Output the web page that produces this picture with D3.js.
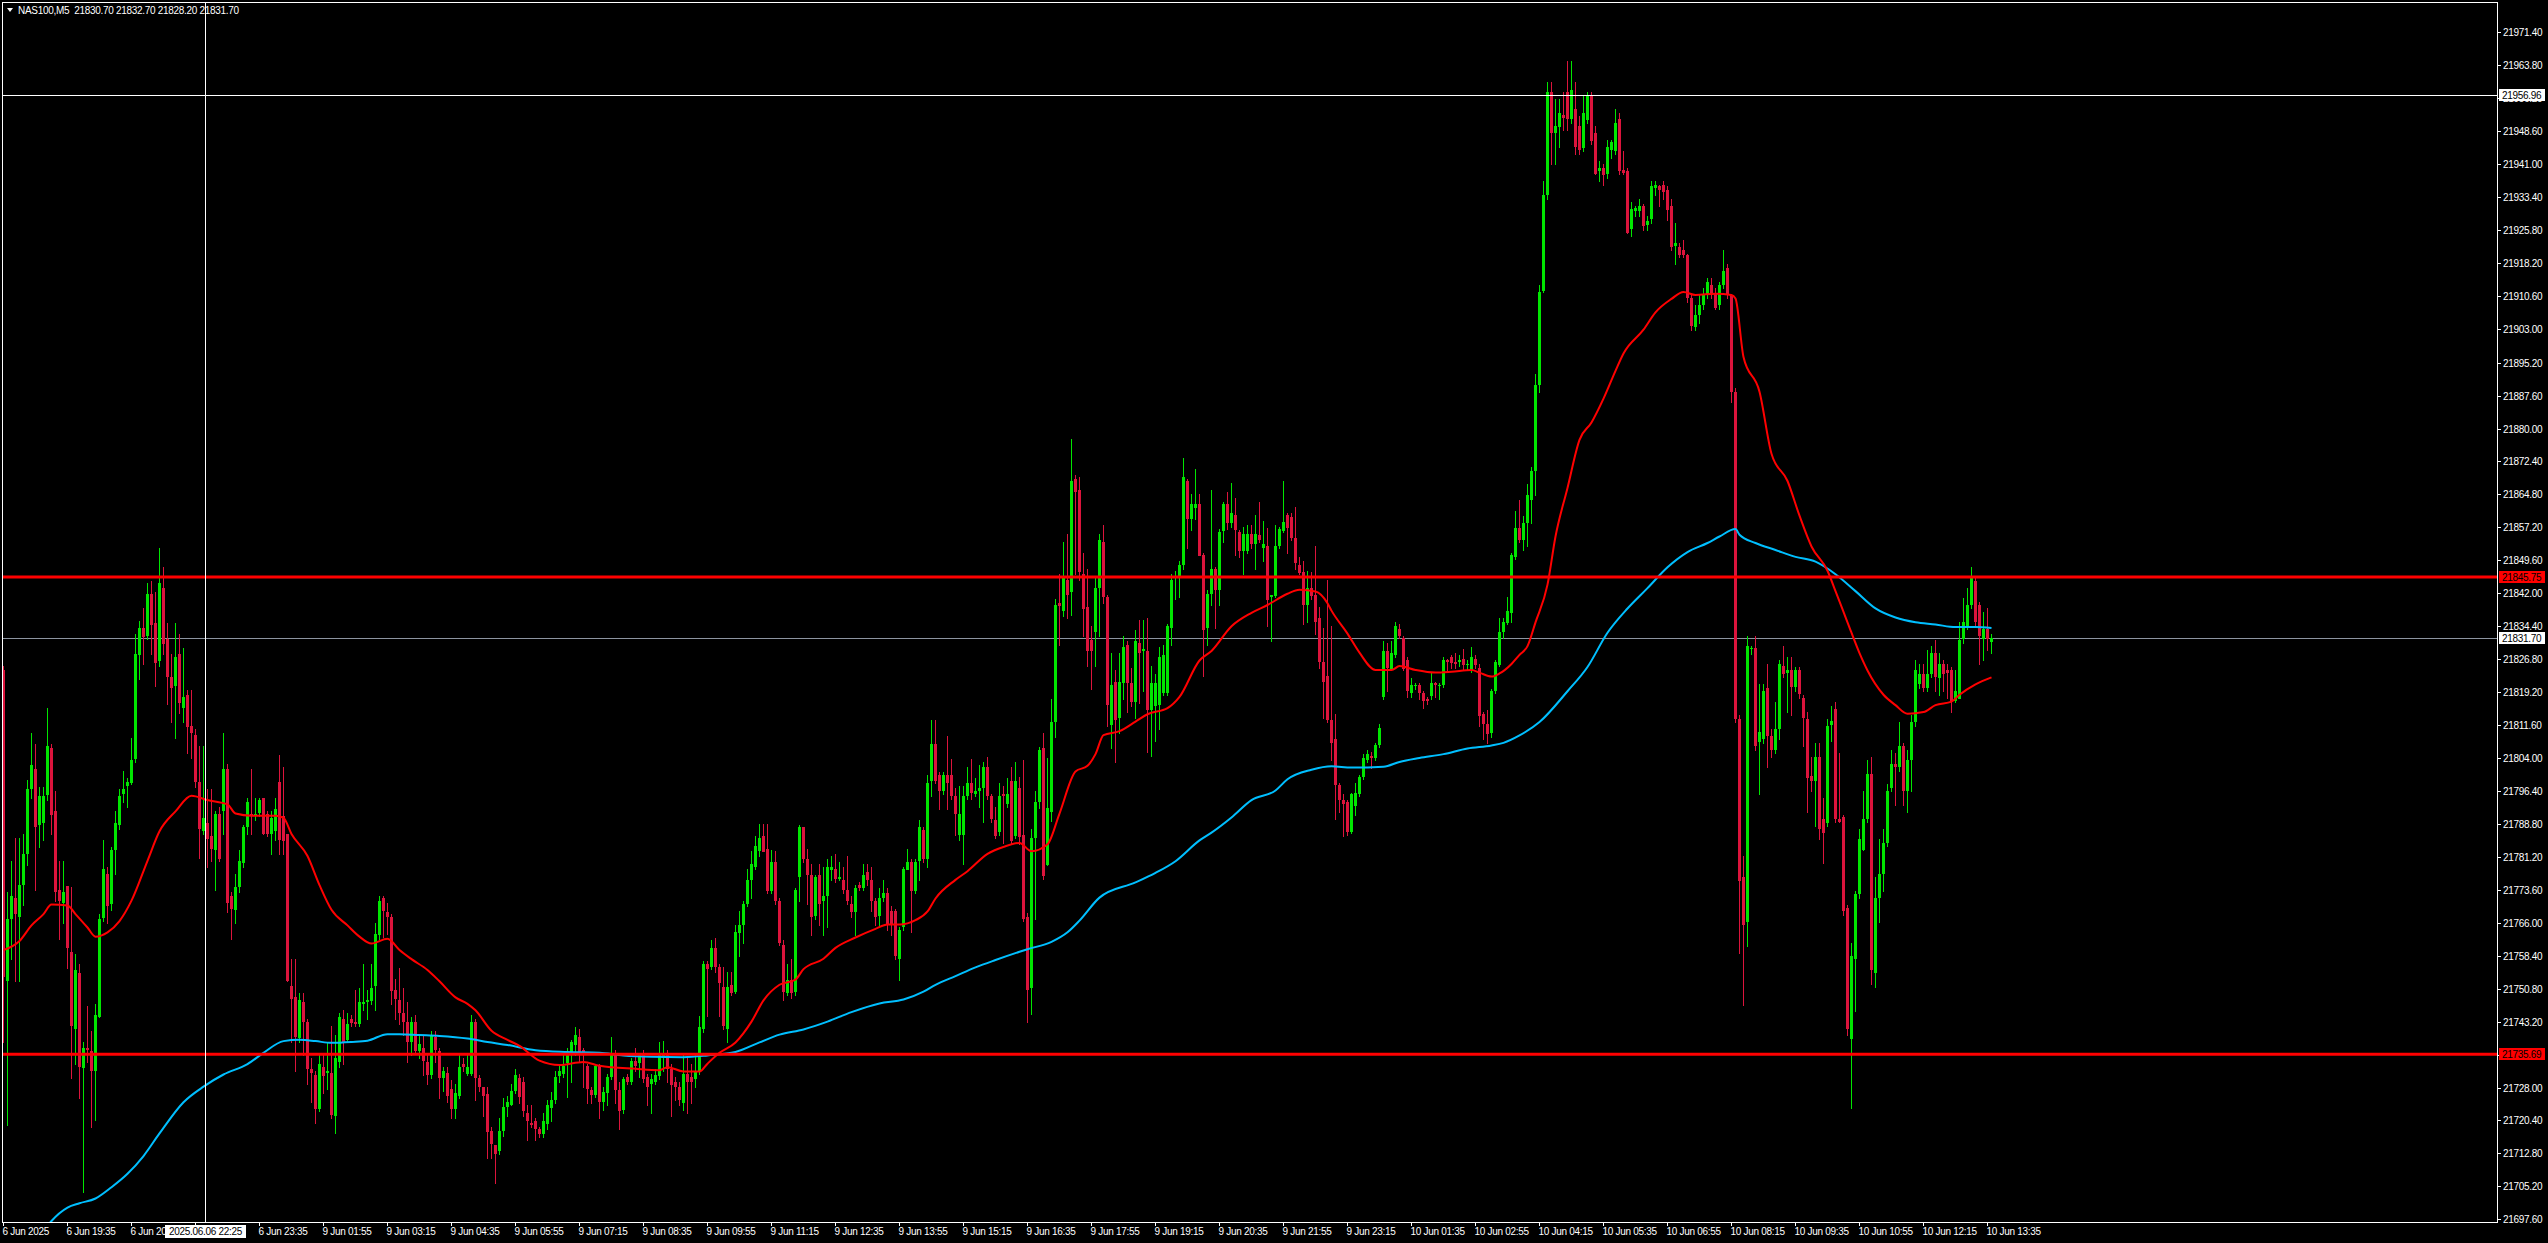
<!DOCTYPE html>
<html><head><meta charset="utf-8">
<script src="https://cdn.jsdelivr.net/npm/d3@7"></script>
<style>
html,body{margin:0;padding:0;background:#000;overflow:hidden}
svg{display:block}
text{font-family:"Liberation Sans",Arial,sans-serif;font-size:10px;letter-spacing:-0.3px}
</style>
</head><body>
<svg id="chart" width="2548" height="1243"></svg>
<script>
// ---------------- DATA ----------------
const chartTitle = "NAS100,M5  21830.70 21832.70 21828.20 21831.70";

const open = [
21824.2,21752.5,21766.9,21771.6,21767.4,21774.7,21781.9,21796.9,21801.5,21788.6,
21789.1,21795.3,21806.2,21791.7,21773.6,21770.5,21774.4,21759.2,21741.6,21754.5,
21732.3,21737.0,21736.5,21731.8,21744.2,21766.9,21777.3,21770.5,21782.9,21788.6,
21795.8,21797.4,21798.4,21803.6,21827.9,21834.1,21832.0,21841.8,21835.1,21826.3,
21843.3,21831.5,21822.7,21820.6,21827.9,21815.5,21818.6,21811.3,21809.3,21798.4,
21787.1,21789.1,21786.0,21782.9,21791.2,21791.7,21801.5,21772.1,21769.0,21774.2,
21779.8,21788.1,21791.2,21790.7,21791.2,21794.8,21791.2,21786.5,21787.1,21798.4,
21790.7,21786.5,21751.4,21748.8,21739.6,21747.8,21743.2,21732.3,21730.8,21723.0,
21732.8,21731.3,21731.3,21721.5,21733.9,21743.7,21739.1,21743.7,21743.2,21742.7,
21747.3,21747.7,21747.8,21751.4,21763.3,21771.6,21768.5,21767.4,21750.4,21748.3,
21745.2,21743.2,21738.5,21743.2,21736.5,21737.0,21733.9,21730.8,21739.6,21736.5,
21730.3,21731.3,21727.7,21723.0,21726.1,21733.4,21731.3,21731.3,21743.2,21730.3,
21728.2,21726.6,21717.9,21714.8,21713.2,21717.9,21723.5,21724.0,21727.2,21730.3,
21729.3,21722.1,21719.9,21720.3,21718.4,21717.2,21719.6,21723.3,21725.1,21730.5,
21731.1,21733.5,21735.4,21737.8,21739.6,21736.6,21732.9,21727.5,21726.3,21732.9,
21724.5,21726.9,21730.5,21736.0,21727.5,21722.7,21730.5,21729.3,21734.2,21733.5,
21735.4,21730.5,21728.7,21729.3,21730.5,21734.8,21736.0,21732.3,21729.3,21728.1,
21724.5,21731.1,21730.5,21729.9,21731.7,21741.4,21756.5,21755.9,21760.2,21755.9,
21751.1,21741.4,21751.7,21749.9,21763.8,21765.6,21770.4,21775.9,21778.9,21782.5,
21786.1,21783.1,21773.5,21780.1,21771.0,21760.8,21749.9,21752.9,21749.9,21776.5,
21788.0,21780.7,21777.1,21767.4,21777.1,21771.0,21772.2,21778.3,21778.3,21776.1,
21775.9,21773.5,21770.4,21768.6,21774.7,21774.1,21777.7,21775.9,21771.0,21767.4,
21771.6,21772.8,21768.6,21768.6,21757.7,21765.0,21778.3,21780.1,21773.5,21780.1,
21787.4,21780.7,21798.8,21807.3,21800.1,21796.4,21800.1,21800.1,21795.2,21786.2,
21786.2,21795.2,21798.2,21795.8,21796.4,21797.0,21801.9,21795.2,21789.8,21786.8,
21795.6,21793.4,21798.8,21786.2,21797.2,21786.3,21767.4,21751.0,21785.5,21793.9,
21806.2,21779.3,21791.6,21812.4,21839.7,21838.0,21845.0,21842.4,21868.4,21865.8,
21846.4,21838.9,21831.3,21833.1,21843.3,21853.9,21841.1,21811.5,21821.6,21813.3,
21821.2,21830.0,21821.2,21816.8,21830.5,21828.7,21828.7,21815.0,21815.9,21816.4,
21819.0,21819.0,21834.0,21845.5,21845.9,21848.6,21868.0,21859.2,21861.8,21862.7,
21850.8,21834.0,21841.9,21847.7,21842.8,21856.5,21862.7,21858.3,21860.0,21856.1,
21851.7,21851.7,21855.6,21853.4,21855.5,21852.5,21853.0,21841.1,21841.5,21853.0,
21856.5,21860.0,21859.6,21854.7,21848.6,21846.8,21839.3,21843.3,21841.5,21836.2,
21826.1,21823.0,21812.8,21808.4,21797.8,21794.3,21793.8,21786.8,21793.0,21795.6,
21799.6,21803.5,21804.4,21804.0,21807.1,21818.1,21828.7,21824.7,21827.8,21833.7,
21831.8,21826.5,21819.0,21820.7,21820.8,21819.0,21817.7,21818.1,21821.2,21820.7,
21820.8,21826.5,21827.4,21826.1,21826.1,21826.9,21825.6,21824.3,21826.9,21824.7,
21814.1,21811.9,21809.7,21819.4,21825.6,21833.1,21835.3,21837.5,21850.3,21857.0,
21854.4,21858.3,21863.5,21870.3,21890.1,21911.6,21933.8,21957.6,21948.1,21949.7,
21952.4,21957.6,21951.3,21953.7,21949.7,21944.9,21951.3,21956.8,21948.1,21939.4,
21940.2,21938.6,21944.1,21944.1,21951.3,21939.7,21939.4,21925.9,21930.2,21930.2,
21931.4,21927.0,21928.2,21935.4,21935.9,21936.2,21935.1,21931.4,21921.9,21921.9,
21921.1,21920.0,21910.0,21903.6,21906.0,21908.4,21910.8,21913.1,21911.1,21908.4,
21913.1,21917.1,21910.8,21888.5,21813.1,21776.5,21766.2,21829.1,21829.4,21807.5,
21808.3,21820.2,21809.1,21805.9,21810.7,21825.3,21823.4,21824.2,21820.2,21824.2,
21817.8,21813.1,21799.9,21798.8,21804.3,21790.0,21789.2,21811.5,21815.4,21790.0,
21790.3,21769.4,21739.2,21757.5,21772.6,21782.9,21790.0,21800.4,21754.3,21771.7,
21777.3,21784.4,21797.2,21802.7,21801.9,21806.7,21796.4,21803.5,21812.3,21821.0,
21823.4,21820.2,21823.4,21828.2,21822.6,21825.8,21824.2,21824.2,21817.0,21817.8,
21831.3,21834.5,21839.3,21844.8,21839.3,21831.3,21833.7,21830.7];

const high = [
21825.3,21773.1,21780.3,21785.5,21785.5,21786.5,21798.9,21809.8,21807.2,21797.4,
21797.4,21815.5,21807.2,21796.4,21780.3,21780.3,21774.4,21774.2,21758.7,21756.6,
21738.5,21746.8,21741.1,21747.3,21768.0,21785.0,21778.8,21783.4,21791.7,21796.9,
21801.0,21799.5,21808.7,21832.5,21835.6,21838.7,21844.4,21844.9,21842.3,21852.4,
21848.0,21835.1,21827.9,21835.1,21832.5,21829.4,21819.6,21819.6,21810.8,21806.7,
21806.7,21796.9,21796.9,21791.7,21792.7,21809.8,21802.6,21773.1,21777.3,21782.9,
21788.6,21794.8,21801.5,21794.8,21794.8,21794.8,21791.7,21791.7,21794.8,21804.6,
21802.0,21786.5,21757.6,21757.6,21749.9,21749.9,21743.7,21734.9,21731.8,21735.4,
21735.4,21738.5,21742.1,21740.1,21745.2,21745.8,21745.2,21744.7,21750.4,21750.9,
21756.6,21750.4,21756.6,21765.9,21772.1,21772.1,21770.5,21768.0,21753.0,21755.6,
21750.9,21747.8,21744.2,21744.7,21740.1,21740.1,21735.4,21741.1,21741.1,21737.0,
21732.8,21732.8,21729.7,21728.7,21735.4,21734.9,21735.4,21744.7,21743.7,21730.8,
21728.2,21728.2,21718.9,21714.8,21721.0,21725.6,21726.1,21728.7,21732.3,21731.1,
21730.5,21723.9,21723.9,21720.9,21719.0,21722.1,21725.1,21726.9,21731.7,21732.9,
21735.4,21737.2,21739.0,21742.0,21741.6,21737.2,21733.5,21728.1,21733.5,21733.5,
21728.1,21731.1,21739.6,21736.6,21729.3,21730.5,21731.1,21734.8,21737.2,21736.0,
21736.6,21731.1,21731.1,21732.3,21738.4,21738.8,21736.6,21733.5,21730.5,21729.3,
21735.4,21734.8,21733.5,21735.4,21744.4,21757.1,21757.1,21762.0,21762.6,21756.5,
21755.9,21754.7,21754.7,21765.6,21768.6,21771.0,21778.3,21782.5,21786.1,21788.8,
21788.8,21788.8,21782.8,21782.5,21771.6,21762.0,21756.5,21757.7,21774.1,21788.6,
21788.0,21783.1,21779.5,21777.1,21779.5,21778.9,21780.7,21781.3,21781.9,21780.1,
21778.9,21781.3,21772.2,21774.7,21775.3,21779.5,21779.5,21778.9,21771.6,21774.1,
21775.9,21774.1,21769.8,21769.2,21765.0,21778.9,21783.1,21780.7,21780.7,21789.8,
21788.0,21800.1,21812.8,21812.8,21800.7,21800.7,21809.1,21803.7,21797.0,21797.6,
21797.6,21801.9,21803.7,21799.5,21802.5,21803.1,21804.3,21795.8,21792.8,21798.2,
21797.6,21799.5,21801.9,21803.1,21799.6,21803.5,21768.2,21787.7,21796.5,21806.6,
21809.7,21804.0,21817.7,21840.6,21846.4,21853.9,21855.6,21877.7,21869.3,21868.9,
21851.2,21847.7,21834.4,21845.9,21855.6,21857.8,21841.5,21828.3,21824.3,21828.3,
21832.2,21830.9,21824.7,21833.6,21835.8,21835.8,21836.2,21825.2,21823.4,21829.6,
21830.0,21834.9,21846.4,21847.2,21849.4,21873.3,21868.4,21864.9,21870.6,21864.9,
21851.2,21842.8,21865.8,21848.1,21856.9,21863.1,21865.3,21867.5,21864.0,21856.5,
21857.4,21857.8,21857.8,21860.0,21863.1,21858.7,21857.0,21841.5,21857.8,21857.4,
21868.0,21860.5,21860.5,21861.8,21850.3,21849.4,21847.2,21846.8,21853.0,21838.9,
21834.0,21845.0,21834.4,21814.1,21798.3,21795.6,21794.3,21796.0,21798.3,21800.0,
21804.9,21805.8,21805.3,21807.5,21811.9,21830.9,21830.5,21830.9,21835.3,21834.9,
21832.2,21827.4,21822.5,21821.2,21821.2,21819.4,21818.1,21823.9,21821.6,21821.2,
21827.4,21826.9,21827.8,21828.3,21827.8,21829.1,21826.5,21829.6,21827.8,21825.6,
21814.6,21815.0,21819.9,21826.5,21836.2,21836.2,21841.1,21851.2,21860.9,21863.6,
21859.9,21867.1,21871.1,21892.5,21913.1,21937.0,21960.0,21960.0,21956.0,21956.0,
21957.6,21964.8,21964.8,21960.0,21952.1,21956.8,21957.6,21957.6,21949.7,21941.8,
21941.0,21946.5,21946.5,21953.7,21952.9,21944.1,21940.2,21932.2,21931.4,21933.0,
21931.7,21929.0,21937.0,21937.0,21936.2,21937.0,21935.9,21933.0,21927.4,21922.7,
21923.5,21920.3,21910.8,21908.4,21910.8,21912.4,21914.7,21914.7,21912.4,21913.9,
21921.1,21917.9,21911.1,21889.3,21813.9,21781.3,21832.1,21829.8,21832.1,21821.0,
21821.0,21825.8,21810.7,21817.0,21826.6,21829.8,21827.4,21827.4,21825.0,21825.0,
21818.6,21814.6,21804.3,21807.5,21807.5,21794.8,21813.1,21816.0,21817.0,21805.1,
21790.8,21770.2,21761.4,21773.4,21787.6,21796.4,21803.5,21804.3,21776.5,21785.3,
21787.6,21797.9,21805.9,21805.1,21812.3,21807.5,21805.9,21813.9,21826.6,21825.8,
21825.8,21829.0,21829.8,21831.3,21828.2,21826.6,21825.8,21825.0,21824.2,21835.3,
21840.9,21843.2,21848.0,21845.6,21840.1,21837.7,21838.5,21832.7];

const low = [
21738.5,21719.4,21757.6,21752.5,21752.5,21770.0,21779.3,21794.8,21773.6,21783.4,
21785.0,21794.3,21786.5,21771.1,21762.3,21765.9,21755.6,21730.3,21733.4,21725.6,
21703.9,21733.9,21718.9,21720.5,21744.2,21766.4,21765.9,21769.0,21777.3,21787.6,
21793.8,21792.8,21797.9,21803.1,21822.2,21825.8,21831.5,21827.9,21820.6,21825.3,
21827.9,21816.5,21812.3,21808.7,21814.4,21812.3,21805.1,21804.1,21797.4,21780.9,
21786.5,21778.8,21780.3,21773.6,21780.3,21786.5,21768.5,21762.3,21765.9,21773.1,
21778.8,21786.5,21786.5,21789.6,21790.7,21786.5,21786.0,21781.9,21785.0,21781.9,
21781.9,21752.5,21738.5,21731.8,21738.5,21735.4,21728.7,21724.6,21719.9,21722.5,
21726.7,21727.7,21721.0,21717.4,21732.8,21733.4,21738.5,21742.1,21742.1,21742.1,
21745.8,21743.7,21747.3,21745.8,21762.3,21762.8,21763.3,21747.3,21743.7,21742.7,
21740.1,21733.9,21735.4,21736.0,21734.9,21730.8,21728.7,21730.3,21733.9,21725.6,
21727.2,21724.6,21721.0,21721.0,21725.6,21731.8,21730.8,21730.8,21725.1,21727.2,
21721.5,21711.7,21711.7,21706.0,21712.7,21716.8,21721.5,21724.0,21726.7,21724.5,
21721.5,21716.0,21719.0,21716.0,21716.6,21716.6,21718.4,21720.3,21724.5,21729.3,
21730.5,21725.7,21729.3,21735.4,21734.2,21728.1,21724.5,21724.5,21725.7,21720.9,
21722.7,21723.9,21729.9,21724.5,21718.4,21722.1,21728.7,21728.7,21731.7,21730.5,
21729.3,21723.9,21722.1,21728.7,21729.9,21731.7,21729.3,21721.5,21725.1,21723.9,
21722.7,21722.1,21724.5,21728.1,21731.1,21740.8,21744.4,21755.3,21754.7,21744.4,
21741.4,21738.4,21749.3,21749.9,21758.3,21761.4,21769.8,21771.6,21778.3,21781.3,
21782.5,21772.8,21772.8,21770.4,21760.8,21748.1,21749.3,21748.7,21749.3,21771.0,
21780.1,21770.4,21763.2,21766.8,21765.6,21763.2,21765.0,21775.9,21775.3,21775.9,
21772.8,21770.4,21767.4,21763.2,21773.5,21773.5,21774.7,21768.6,21765.6,21765.6,
21771.0,21764.4,21763.2,21757.7,21752.9,21764.4,21778.3,21763.8,21772.8,21775.9,
21780.1,21778.9,21795.2,21798.2,21792.2,21795.8,21792.2,21794.6,21786.2,21785.0,
21779.5,21794.6,21794.6,21795.2,21792.8,21789.2,21794.6,21789.2,21785.5,21786.2,
21784.3,21792.8,21784.3,21785.5,21784.1,21766.5,21743.0,21745.0,21766.9,21792.5,
21776.2,21779.3,21789.4,21808.8,21830.0,21836.7,21836.2,21837.1,21846.4,21845.0,
21832.2,21825.2,21819.9,21825.2,21832.2,21839.7,21811.5,21806.2,21803.1,21809.7,
21817.7,21814.6,21815.9,21813.3,21816.8,21819.4,21805.3,21804.4,21808.0,21810.6,
21818.6,21818.6,21830.0,21840.6,21841.1,21847.7,21852.5,21856.5,21859.2,21850.8,
21823.0,21830.0,21839.3,21834.0,21839.3,21853.9,21856.9,21857.4,21850.8,21850.3,
21846.4,21851.2,21852.5,21847.7,21853.9,21849.4,21834.4,21830.9,21841.1,21852.5,
21856.1,21851.2,21854.3,21847.7,21846.4,21834.9,21835.3,21840.6,21832.7,21824.7,
21813.3,21812.4,21803.5,21789.9,21791.6,21785.9,21786.3,21786.8,21790.8,21795.2,
21799.1,21803.1,21801.8,21803.5,21806.6,21817.7,21819.4,21824.3,21827.4,21831.8,
21824.3,21818.1,21818.1,21819.9,21817.7,21815.5,21816.4,21817.7,21818.1,21817.7,
21820.3,21823.9,21824.7,21824.7,21825.2,21824.3,21824.3,21823.9,21824.7,21811.5,
21808.4,21807.5,21808.8,21819.0,21825.2,21831.8,21834.9,21835.3,21849.9,21853.9,
21852.0,21852.8,21858.3,21864.7,21888.5,21911.6,21933.0,21941.0,21941.0,21944.9,
21948.9,21948.9,21950.5,21943.3,21943.3,21944.1,21950.5,21945.7,21938.6,21937.0,
21936.2,21937.8,21942.5,21943.3,21938.6,21938.6,21925.1,21924.3,21929.0,21929.0,
21925.9,21925.9,21927.4,21933.8,21931.4,21933.0,21928.2,21921.1,21917.9,21919.5,
21919.5,21909.2,21902.8,21902.8,21904.4,21907.6,21910.0,21910.0,21907.6,21907.6,
21912.4,21910.0,21886.1,21812.3,21759.0,21747.1,21760.6,21828.1,21805.9,21795.6,
21807.5,21801.9,21804.3,21805.1,21808.3,21822.6,21814.6,21813.9,21819.4,21817.8,
21806.7,21791.6,21796.4,21788.4,21785.3,21779.7,21788.4,21808.0,21789.2,21789.2,
21767.8,21740.0,21723.3,21745.6,21771.8,21782.9,21789.2,21751.9,21751.1,21766.2,
21773.4,21783.6,21796.4,21793.2,21801.1,21793.2,21791.6,21796.4,21811.5,21820.2,
21819.4,21819.4,21822.6,21819.4,21818.6,21819.4,21817.8,21814.6,21817.0,21817.8,
21830.5,21833.7,21838.5,21834.5,21825.8,21826.6,21828.9,21828.2];

const close = [
21753.5,21766.9,21772.1,21768.0,21774.7,21781.9,21796.9,21802.5,21788.1,21795.3,
21795.3,21806.7,21790.7,21773.1,21771.1,21773.1,21760.2,21742.1,21755.1,21732.8,
21737.0,21736.5,21731.8,21744.7,21766.9,21778.3,21770.0,21782.9,21789.1,21795.3,
21796.9,21798.4,21803.6,21827.9,21834.1,21832.0,21841.8,21834.6,21825.8,21844.4,
21830.4,21822.7,21820.1,21827.3,21816.5,21818.1,21811.3,21809.8,21798.4,21787.6,
21790.2,21785.5,21782.9,21791.2,21780.9,21801.5,21770.5,21769.0,21774.2,21780.3,
21788.1,21793.8,21790.7,21791.2,21794.3,21786.5,21786.5,21790.2,21792.2,21785.0,
21785.0,21752.5,21748.3,21739.6,21748.3,21743.2,21732.3,21731.3,21723.0,21733.4,
21730.8,21731.8,21721.5,21734.9,21744.2,21738.5,21742.7,21742.7,21742.7,21747.8,
21747.8,21748.1,21750.9,21763.3,21771.1,21768.5,21767.4,21750.4,21748.3,21745.2,
21743.2,21738.5,21743.2,21736.5,21738.0,21733.9,21730.8,21740.1,21736.5,21730.3,
21731.8,21726.1,21723.0,21726.7,21732.8,21732.8,21732.8,21743.2,21730.3,21728.2,
21726.1,21717.9,21714.8,21712.7,21717.9,21723.5,21724.6,21727.2,21730.8,21726.0,
21722.7,21720.3,21719.4,21718.4,21717.2,21720.3,21723.9,21725.1,21730.5,21731.7,
21732.9,21735.4,21738.4,21740.2,21735.4,21736.0,21727.5,21726.3,21732.9,21724.5,
21726.9,21730.5,21736.0,21727.5,21722.7,21729.9,21729.3,21734.2,21733.0,21735.4,
21729.9,21728.1,21729.9,21730.8,21735.4,21736.0,21732.3,21728.7,21728.1,21725.1,
21731.1,21729.3,21729.3,21731.7,21742.0,21756.5,21755.3,21760.2,21755.9,21752.3,
21742.0,21751.1,21749.9,21763.8,21765.6,21770.4,21775.9,21779.5,21783.7,21785.5,
21782.5,21773.5,21780.1,21771.0,21761.4,21749.9,21752.9,21749.9,21773.5,21788.0,
21780.7,21777.1,21767.4,21776.5,21770.4,21772.2,21778.9,21778.9,21775.9,21776.5,
21773.5,21771.0,21768.6,21774.1,21774.1,21777.1,21775.9,21771.0,21767.4,21771.6,
21772.8,21765.6,21765.6,21758.3,21764.4,21778.3,21780.1,21773.5,21780.1,21788.0,
21780.7,21798.2,21807.3,21798.8,21796.4,21800.1,21798.2,21795.2,21791.0,21791.0,
21795.2,21798.2,21795.8,21796.4,21797.0,21801.9,21795.2,21789.8,21786.2,21795.2,
21795.2,21795.8,21784.9,21798.8,21786.0,21766.9,21750.6,21785.5,21793.9,21805.8,
21776.6,21792.5,21812.4,21839.3,21838.9,21845.5,21841.5,21868.0,21865.3,21846.8,
21838.4,21828.7,21828.7,21843.3,21854.3,21841.1,21816.3,21820.8,21812.8,21821.6,
21829.6,21821.2,21816.8,21830.9,21828.3,21829.1,21815.0,21821.2,21821.2,21827.4,
21827.8,21834.4,21845.0,21845.9,21848.6,21868.9,21859.2,21862.7,21862.7,21850.8,
21833.6,21841.9,21847.7,21842.8,21856.1,21862.7,21858.3,21860.5,21856.5,21851.7,
21855.6,21855.6,21853.4,21855.6,21854.3,21853.4,21840.6,21841.5,21853.0,21856.9,
21858.5,21856.9,21854.7,21849.0,21846.8,21839.3,21843.3,21841.5,21835.3,21826.1,
21821.6,21812.8,21807.5,21797.8,21794.3,21793.4,21786.8,21795.6,21796.0,21799.6,
21804.0,21804.9,21804.0,21807.1,21811.0,21828.7,21824.7,21828.3,21834.4,21832.2,
21824.7,21819.4,21820.8,21820.9,21819.0,21817.2,21817.2,21821.2,21820.8,21820.9,
21826.5,21826.1,21826.1,21825.6,21826.5,21825.6,21825.7,21827.4,21825.6,21813.7,
21811.9,21809.7,21819.4,21826.1,21833.1,21835.3,21838.0,21850.8,21857.0,21854.3,
21858.3,21864.7,21870.3,21890.1,21911.6,21933.8,21957.6,21948.1,21949.7,21952.9,
21951.8,21951.3,21958.1,21944.9,21944.1,21952.9,21956.8,21946.5,21938.6,21940.2,
21938.6,21944.9,21946.0,21950.5,21939.4,21939.1,21925.1,21930.6,21930.9,21931.4,
21926.7,21927.9,21935.9,21936.2,21934.9,21934.6,21930.6,21921.9,21922.7,21920.0,
21920.0,21910.0,21903.6,21906.3,21908.4,21910.8,21913.9,21910.8,21907.9,21913.1,
21916.3,21910.8,21888.5,21813.1,21775.7,21765.4,21829.8,21829.4,21806.7,21809.9,
21819.4,21809.1,21805.9,21810.7,21825.8,21823.4,21824.2,21820.2,21824.2,21818.6,
21813.1,21799.6,21798.8,21804.3,21787.6,21786.8,21811.5,21812.5,21790.0,21789.2,
21768.6,21741.5,21758.3,21772.6,21785.3,21790.0,21800.4,21755.1,21771.7,21777.3,
21784.4,21796.4,21802.7,21801.9,21806.7,21796.4,21803.5,21812.3,21824.2,21823.4,
21820.2,21823.4,21828.2,21822.6,21825.8,21823.4,21823.4,21817.0,21819.4,21831.3,
21835.3,21839.3,21845.6,21835.3,21832.1,21833.7,21831.3,21831.7];

// moving averages: [bar index, value]
const redMA = [
[0,21759.7],[4,21761.8],[7,21765.4],[10,21768.0],[12,21770.2],[16,21770.0],[18,21768.0],[21,21764.9],[23,21762.8],[26,21763.8],
[29,21766.4],[32,21771.1],[36,21780.3],[39,21787.1],[43,21791.7],[47,21795.3],[51,21794.3],[56,21793.3],[58,21791.2],[62,21790.7],
[68,21790.7],[70,21790.2],[72,21786.5],[76,21781.4],[79,21774.7],[82,21769.0],[86,21765.4],[89,21762.8],[92,21761.2],[96,21762.3],
[99,21759.7],[102,21757.6],[106,21755.1],[109,21752.5],[113,21748.8],[116,21747.3],[118,21745.8],[122,21741.1],[126,21739.0],[129,21737.6],
[134,21734.2],[139,21733.2],[145,21733.9],[149,21733.0],[158,21732.3],[164,21732.0],[166,21732.7],[170,21731.7],[174,21731.7],[176,21733.5],
[179,21736.0],[183,21738.4],[187,21743.2],[190,21748.1],[194,21751.7],[198,21752.9],[200,21755.3],[205,21757.7],[208,21760.2],[213,21762.6],
[218,21764.6],[221,21765.6],[224,21765.6],[228,21766.6],[231,21768.6],[233,21771.6],[238,21775.9],[241,21777.9],[246,21781.9],[250,21783.5],
[254,21784.4],[257,21782.5],[261,21784.1],[264,21791.2],[268,21800.9],[271,21802.2],[273,21804.9],[275,21809.3],[279,21810.2],[283,21812.4],
[286,21814.1],[291,21815.5],[294,21818.1],[299,21826.5],[302,21828.7],[307,21834.4],[312,21837.5],[316,21839.3],[321,21841.9],[324,21842.8],
[328,21842.4],[331,21839.7],[332,21838.0],[336,21832.7],[339,21828.3],[343,21824.3],[347,21824.3],[349,21825.2],[353,21824.3],[358,21823.7],
[362,21823.9],[367,21824.3],[369,21823.7],[372,21822.8],[374,21823.5],[377,21825.7],[379,21827.8],[381,21829.8],[383,21835.3],[386,21844.0],
[388,21855.1],[391,21866.3],[394,21877.4],[397,21881.4],[400,21886.9],[403,21893.3],[405,21897.3],[410,21902.8],[413,21906.8],[417,21909.9],
[420,21911.5],[423,21910.8],[428,21911.1],[432,21910.8],[433,21910.0],[435,21896.5],[439,21888.5],[442,21874.2],[446,21867.9],[449,21859.9],
[452,21852.8],[456,21847.2],[458,21842.5],[461,21835.3],[464,21828.2],[466,21824.2],[470,21818.6],[473,21816.2],[476,21814.2],[480,21814.6],
[483,21816.2],[487,21817.0],[489,21818.6],[493,21821.0],[497,21822.6]];

const blueMA = [
[8,21692.0],[12,21697.2],[16,21700.3],[19,21701.3],[23,21702.4],[27,21705.0],[31,21708.1],[35,21712.2],[39,21717.4],[45,21724.6],
[50,21728.2],[55,21731.0],[61,21733.4],[65,21736.0],[70,21738.7],[74,21739.0],[78,21738.7],[82,21738.3],[87,21738.5],[91,21738.8],
[96,21740.3],[99,21740.3],[104,21740.1],[109,21739.9],[116,21739.3],[121,21738.5],[126,21737.8],[133,21736.6],[141,21736.2],[149,21736.0],
[155,21735.4],[162,21735.1],[170,21735.0],[176,21735.4],[183,21736.2],[189,21738.4],[194,21740.2],[200,21741.4],[206,21743.2],[212,21745.4],
[219,21747.4],[225,21748.3],[230,21750.1],[233,21751.7],[238,21753.7],[243,21755.7],[248,21757.4],[254,21759.3],[256,21759.9],[262,21761.6],
[266,21763.8],[269,21766.5],[274,21771.8],[283,21775.3],[288,21777.5],[293,21780.2],[299,21785.0],[302,21786.8],[307,21790.3],[312,21794.3],
[318,21796.5],[321,21799.1],[327,21801.3],[332,21802.1],[337,21801.8],[345,21802.0],[349,21803.1],[354,21804.0],[360,21804.9],[366,21806.2],
[372,21806.9],[375,21807.5],[379,21809.2],[384,21812.3],[391,21819.4],[396,21825.0],[401,21832.9],[406,21838.5],[411,21843.2],[416,21848.0],
[421,21851.5],[426,21853.6],[429,21855.1],[433,21856.8],[434,21855.5],[438,21853.6],[443,21852.0],[448,21850.4],[453,21849.3],[458,21846.4],
[463,21842.5],[468,21838.5],[473,21836.4],[478,21835.3],[483,21834.8],[488,21834.2],[493,21834.2],[497,21834.0]];

const priceTicks = [21971.40,21963.80,21956.20,21948.60,21941.00,21933.40,21925.80,21918.20,21910.60,21903.00,
21895.20,21887.60,21880.00,21872.40,21864.80,21857.20,21849.60,21842.00,21834.40,21826.80,21819.20,21811.60,
21804.00,21796.40,21788.80,21781.20,21773.60,21766.00,21758.40,21750.80,21743.20,21735.60,21728.00,21720.40,
21712.80,21705.20,21697.60];

const timeLabels = ["6 Jun 2025","6 Jun 19:35","6 Jun 20:55","6 Jun 22:15","6 Jun 23:35",
"9 Jun 01:55","9 Jun 03:15","9 Jun 04:35","9 Jun 05:55","9 Jun 07:15","9 Jun 08:35","9 Jun 09:55",
"9 Jun 11:15","9 Jun 12:35","9 Jun 13:55","9 Jun 15:15","9 Jun 16:35","9 Jun 17:55","9 Jun 19:15",
"9 Jun 20:35","9 Jun 21:55","9 Jun 23:15","10 Jun 01:35","10 Jun 02:55","10 Jun 04:15","10 Jun 05:35",
"10 Jun 06:55","10 Jun 08:15","10 Jun 09:35","10 Jun 10:55","10 Jun 12:15","10 Jun 13:35"];
const barsPerTimeTick = 16;

const levelLines = [21845.75, 21735.69];
const bidPrice = 21831.70;
const crosshairPrice = 21956.96;
const crosshairBar = 50.5;
const crosshairTime = "2025.06.06 22:25";

// ---------------- DRAW ----------------
const W = 2548, H = 1243;
const plot = {left: 2.5, top: 2.5, right: 2497.5, bottom: 1222.5};
const svg = d3.select("#chart");
svg.append("rect").attr("width", W).attr("height", H).attr("fill", "#000");

const x = d3.scaleLinear().domain([0, open.length - 1]).range([3.5, 3.5 + 4 * (open.length - 1)]);
const y = d3.scaleLinear().domain([21697.6, 21971.4]).range([1219.3, 32.3]);

const BULL = "#00e600", BEAR = "#dc143c";

const defs = svg.append("defs");
defs.append("clipPath").attr("id", "pc").append("rect")
  .attr("x", 3).attr("y", 3).attr("width", 2494).attr("height", 1219);

const g = svg.append("g").attr("clip-path", "url(#pc)");

// bid line
g.append("line").attr("x1", 3).attr("x2", 2497).attr("y1", Math.round(y(bidPrice)) + 0.5).attr("y2", Math.round(y(bidPrice)) + 0.5)
  .attr("stroke", "#8c94a0").attr("stroke-width", 1).attr("shape-rendering", "crispEdges");

const bars = open.map((o, i) => ({i, o, h: high[i], l: low[i], c: close[i]}));
const cg = g.append("g").attr("shape-rendering", "crispEdges");
cg.selectAll("line.w").data(bars).join("line").attr("class", "w")
  .attr("x1", d => x(d.i)).attr("x2", d => x(d.i))
  .attr("y1", d => Math.round(y(d.h))).attr("y2", d => Math.round(y(d.l)) + 1)
  .attr("stroke", d => d.c >= d.o ? BULL : BEAR).attr("stroke-width", 1);
cg.selectAll("rect.b").data(bars).join("rect").attr("class", "b")
  .attr("x", d => x(d.i) - 1.5).attr("width", 3)
  .attr("y", d => Math.round(Math.min(y(d.o), y(d.c))))
  .attr("height", d => Math.max(1, Math.round(Math.abs(y(d.o) - y(d.c)))))
  .attr("fill", d => d.c >= d.o ? BULL : BEAR);

// moving averages
const line = d3.line().x(d => x(d[0])).y(d => y(d[1])).curve(d3.curveMonotoneX);
g.append("path").attr("d", line(blueMA)).attr("fill", "none").attr("stroke", "#00bfff").attr("stroke-width", 2);
g.append("path").attr("d", line(redMA)).attr("fill", "none").attr("stroke", "#ff0000").attr("stroke-width", 2);

// horizontal level lines
levelLines.forEach(v => {
  g.append("line").attr("x1", 3).attr("x2", 2497).attr("y1", y(v)).attr("y2", y(v))
    .attr("stroke", "#ff0000").attr("stroke-width", 3);
});

// crosshair
const cy = Math.round(y(crosshairPrice)) + 0.5;
const cx = x(crosshairBar);
g.append("line").attr("x1", 3).attr("x2", 2497).attr("y1", cy).attr("y2", cy).attr("stroke", "#fff").attr("shape-rendering", "crispEdges");
g.append("line").attr("x1", cx).attr("x2", cx).attr("y1", 3).attr("y2", 1222).attr("stroke", "#fff").attr("shape-rendering", "crispEdges");

// frame
svg.append("rect").attr("x", plot.left).attr("y", plot.top)
  .attr("width", plot.right - plot.left).attr("height", plot.bottom - plot.top)
  .attr("fill", "none").attr("stroke", "#fff").attr("stroke-width", 1).attr("shape-rendering", "crispEdges");

// right price axis
const ra = svg.append("g");
priceTicks.forEach(v => {
  const ty = Math.round(y(v)) + 0.5;
  ra.append("line").attr("x1", 2498).attr("x2", 2501).attr("y1", ty).attr("y2", ty).attr("stroke", "#fff").attr("shape-rendering", "crispEdges");
  ra.append("text").attr("x", 2503).attr("y", ty + 3.5).attr("fill", "#fff").text(v.toFixed(2));
});

// crosshair time tag geometry
const tagW = 81, tagX = cx - 40.5;
// labels under the crosshair time tag are cut off at its left edge (as in the terminal)
defs.append("clipPath").attr("id", "tc").append("rect")
  .attr("x", 0).attr("y", 1223).attr("width", tagX).attr("height", 20);

// bottom time axis
const ba = svg.append("g");
timeLabels.forEach((t, k) => {
  const tx = x(k * barsPerTimeTick);
  ba.append("line").attr("x1", tx).attr("x2", tx).attr("y1", 1223).attr("y2", 1226).attr("stroke", "#fff").attr("shape-rendering", "crispEdges");
  if (tx >= tagX && tx <= tagX + tagW) return;           // fully hidden behind the tag
  const tt = ba.append("text").attr("x", tx - 1).attr("y", 1235).attr("fill", "#fff").text(t);
  if (tx < tagX && tx + 55 > tagX) tt.attr("clip-path", "url(#tc)");
});

// price tags on the axis
function tag(v, fill, txt) {
  const ty = y(v);
  ra.append("rect").attr("x", 2499).attr("y", Math.round(ty) - 6).attr("width", 46).attr("height", 12).attr("fill", fill);
  ra.append("text").attr("x", 2502).attr("y", Math.round(ty) + 3.5).attr("fill", "#000").text(txt);
}
tag(crosshairPrice, "#fff", crosshairPrice.toFixed(2));
tag(levelLines[0], "#ff0000", levelLines[0].toFixed(2));
tag(bidPrice, "#fff", bidPrice.toFixed(2));
tag(levelLines[1], "#ff0000", levelLines[1].toFixed(2));

ba.append("rect").attr("x", tagX).attr("y", 1225).attr("width", tagW).attr("height", 13).attr("fill", "#fff");
ba.append("text").attr("x", cx).attr("y", 1235).attr("text-anchor", "middle").attr("fill", "#000").text(crosshairTime);

// title
svg.append("path").attr("d", "M7,8 L13,8 L10,12 Z").attr("fill", "#fff");
svg.append("text").attr("x", 18).attr("y", 14).attr("fill", "#fff").style("white-space", "pre").text(chartTitle);
</script>
</body></html>
